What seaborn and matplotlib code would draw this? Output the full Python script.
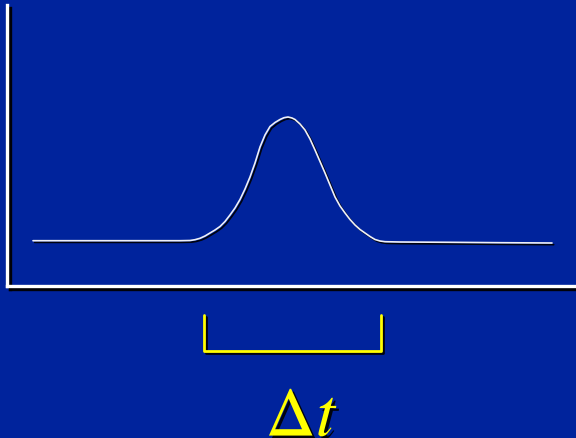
import matplotlib
matplotlib.use("Agg")
import matplotlib.pyplot as plt
import matplotlib.patheffects as pe
import seaborn as sns
import pandas as pd

# Signal (x in horizontal units, signal height above the x axis)
time = [33, 100, 150, 180, 190, 195, 200, 205, 210, 215, 220, 225, 230, 235, 240, 245,
        250, 255, 260, 265, 270, 275, 280, 284, 288, 292, 295, 300, 305, 310, 315, 320,
        325, 330, 335, 340, 345, 350, 355, 360, 365, 370, 375, 380, 385, 400, 450, 500, 552]
signal = [45.3, 45.3, 45.3, 45.3, 45.5, 46.3, 47.7, 50.0, 53.0, 56.0, 59.5, 64.5, 71.0, 78.0, 86.5, 97.0,
          109.0, 123.0, 139.0, 151.0, 159.5, 163.5, 166.5, 168.3, 169.0, 168.0, 166.5, 162.0, 156.0, 147.0, 136.0, 124.5,
          113.0, 101.0, 89.0, 80.0, 73.0, 66.5, 61.0, 56.5, 53.0, 49.5, 46.5, 45.0, 44.3, 44.0, 43.7, 43.3, 43.0]

# Bracket marking the pulse width
bracket_x = [204, 204, 381, 381]
bracket_y = [-29, -65, -65, -29]
label = r"$\Delta t$"

BG = "#00239C"
sns.set_style("white", {"axes.facecolor": BG, "figure.facecolor": BG})
plt.rcParams["mathtext.fontset"] = "stix"

fig = plt.figure(figsize=(5.76, 4.38), dpi=100)
ax = fig.add_axes([7 / 576, (438 - 286) / 438, (576 - 7) / 576, (286 - 5) / 438])
ax.set_facecolor(BG)

df = pd.DataFrame({"time": time, "signal": signal})
sns.lineplot(data=df, x="time", y="signal", ax=ax, estimator=None, sort=False,
             color="#EEF0F8", linewidth=1.2,
             path_effects=[pe.SimpleLineShadow(offset=(1.2, -1.2), shadow_color="black", alpha=0.9),
                           pe.Normal()])

bdf = pd.DataFrame({"x": bracket_x, "y": bracket_y})
sns.lineplot(data=bdf, x="x", y="y", ax=ax, estimator=None, sort=False,
             color="#FFFF00", linewidth=2.0, clip_on=False,
             path_effects=[pe.SimpleLineShadow(offset=(1.5, -1.5), shadow_color="black", alpha=0.9),
                           pe.Normal()])

ax.text(302, -150, label, color="#FFFF00", fontsize=50, ha="center", va="baseline",
        clip_on=False,
        path_effects=[pe.withSimplePatchShadow(offset=(2, -2), shadow_rgbFace="black", alpha=0.9)])

ax.set_xlim(7, 576)
ax.set_ylim(0, 281)
ax.set_xticks([])
ax.set_yticks([])
ax.set_xlabel("")
ax.set_ylabel("")
for s in ["top", "right"]:
    ax.spines[s].set_visible(False)
for s in ["left", "bottom"]:
    ax.spines[s].set_color("white")
    ax.spines[s].set_linewidth(2.4)
    ax.spines[s].set_capstyle("projecting")
    ax.spines[s].set_path_effects([pe.SimpleLineShadow(offset=(2, -2), shadow_color="black", alpha=0.95),
                                   pe.Normal()])

fig.savefig("out.png", dpi=100, facecolor=BG)
